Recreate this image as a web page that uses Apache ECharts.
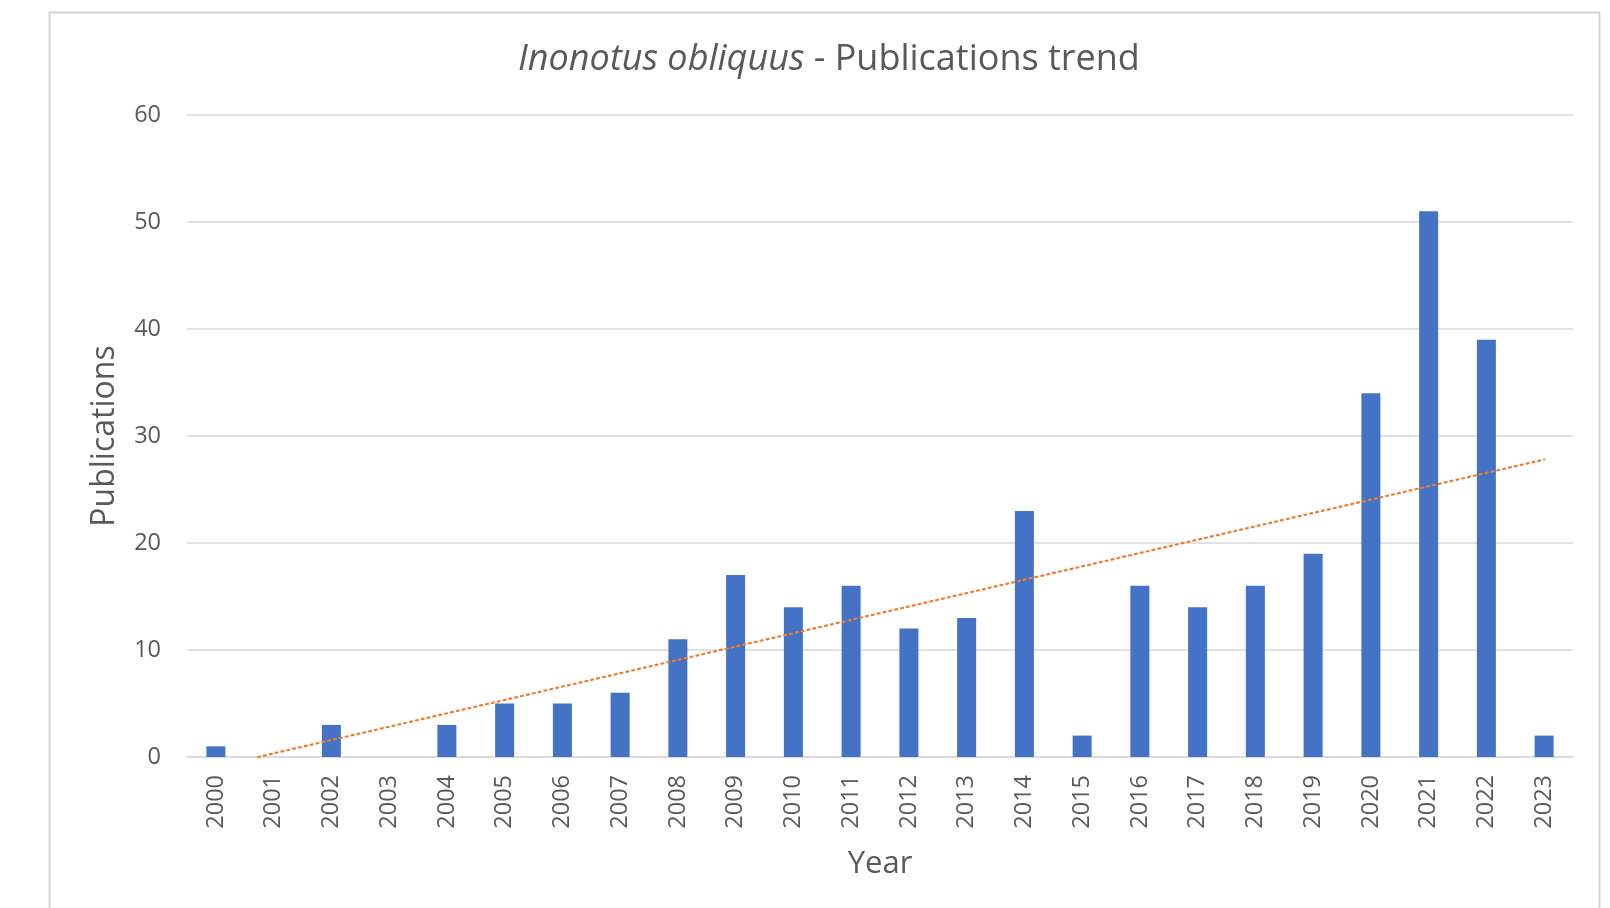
<!DOCTYPE html>
<html>
<head>
<meta charset="utf-8">
<script src="https://cdn.jsdelivr.net/npm/echarts@6/dist/echarts.min.js"></script>
<style>
html,body{margin:0;padding:0;background:#fff;}
#main{width:1610px;height:908px;}
</style>
</head>
<body>
<div id="main"></div>
<script>
const years = ['2000','2001','2002','2003','2004','2005','2006','2007','2008','2009','2010','2011','2012','2013','2014','2015','2016','2017','2018','2019','2020','2021','2022','2023'];
const publications = [1,0,3,0,3,5,5,6,11,17,14,16,12,13,23,2,16,14,16,19,34,51,39,2];
// linear trendline (category index position, value)
const trendX = [0.73, 23];
const trendY = [0, 27.8];
const yTicks = [0,10,20,30,40,50,60];

const FONT = '"Open Sans", sans-serif';
const TXT = '#595959';

const chart = echarts.init(document.getElementById('main'));
chart.setOption({
  backgroundColor: '#ffffff',
  animation: false,
  title: {
    text: '{i|Inonotus obliquus}{n| - Publications trend}',
    left: 824,
    textAlign: 'center',
    top: 37,
    textStyle: {
      fontWeight: 'normal',
      rich: {
        i: {fontFamily: FONT, fontSize: 36, fontStyle: 'italic', fontWeight: 'normal', color: TXT},
        n: {fontFamily: FONT, fontSize: 36, fontWeight: 'normal', color: TXT}
      }
    }
  },
  graphic: [{
    type: 'rect',
    shape: {x: 49.5, y: 12.5, width: 1550, height: 920},
    style: {fill: 'none', stroke: '#d4d4d4', lineWidth: 2},
    silent: true, z: -1
  }],
  grid: {left: 187, right: 37, top: 115, bottom: 151, containLabel: false},
  xAxis: [{
    type: 'category',
    data: years,
    axisLine: {lineStyle: {color: '#d9d9d9', width: 1.5}},
    axisTick: {show: false},
    axisLabel: {rotate: 90, color: TXT, fontFamily: FONT, fontSize: 23.5, margin: 18, interval: 0},
    name: 'Year',
    nameLocation: 'middle',
    nameGap: 92,
    nameTextStyle: {color: TXT, fontFamily: FONT, fontSize: 31}
  }, {
    type: 'value',
    min: -0.5, max: 23.5,
    show: false
  }],
  yAxis: {
    type: 'value',
    min: yTicks[0], max: yTicks[yTicks.length-1], interval: 10,
    axisLine: {show: false},
    axisTick: {show: false},
    splitLine: {lineStyle: {color: '#d9d9d9', width: 1.5}},
    axisLabel: {color: TXT, fontFamily: FONT, fontSize: 23.5, margin: 26},
    name: 'Publications',
    nameLocation: 'middle',
    nameGap: 66,
    nameTextStyle: {color: TXT, fontFamily: FONT, fontSize: 32}
  },
  series: [{
    type: 'bar',
    xAxisIndex: 0,
    data: publications,
    barWidth: 19,
    itemStyle: {color: '#4472C4'}
  }, {
    type: 'line',
    xAxisIndex: 1,
    data: trendX.map((x, k) => [x, trendY[k]]),
    symbol: 'none',
    z: 5,
    lineStyle: {color: '#ED7D31', width: 2.2, type: [2, 4], cap: 'round'}
  }]
});
</script>
</body>
</html>
